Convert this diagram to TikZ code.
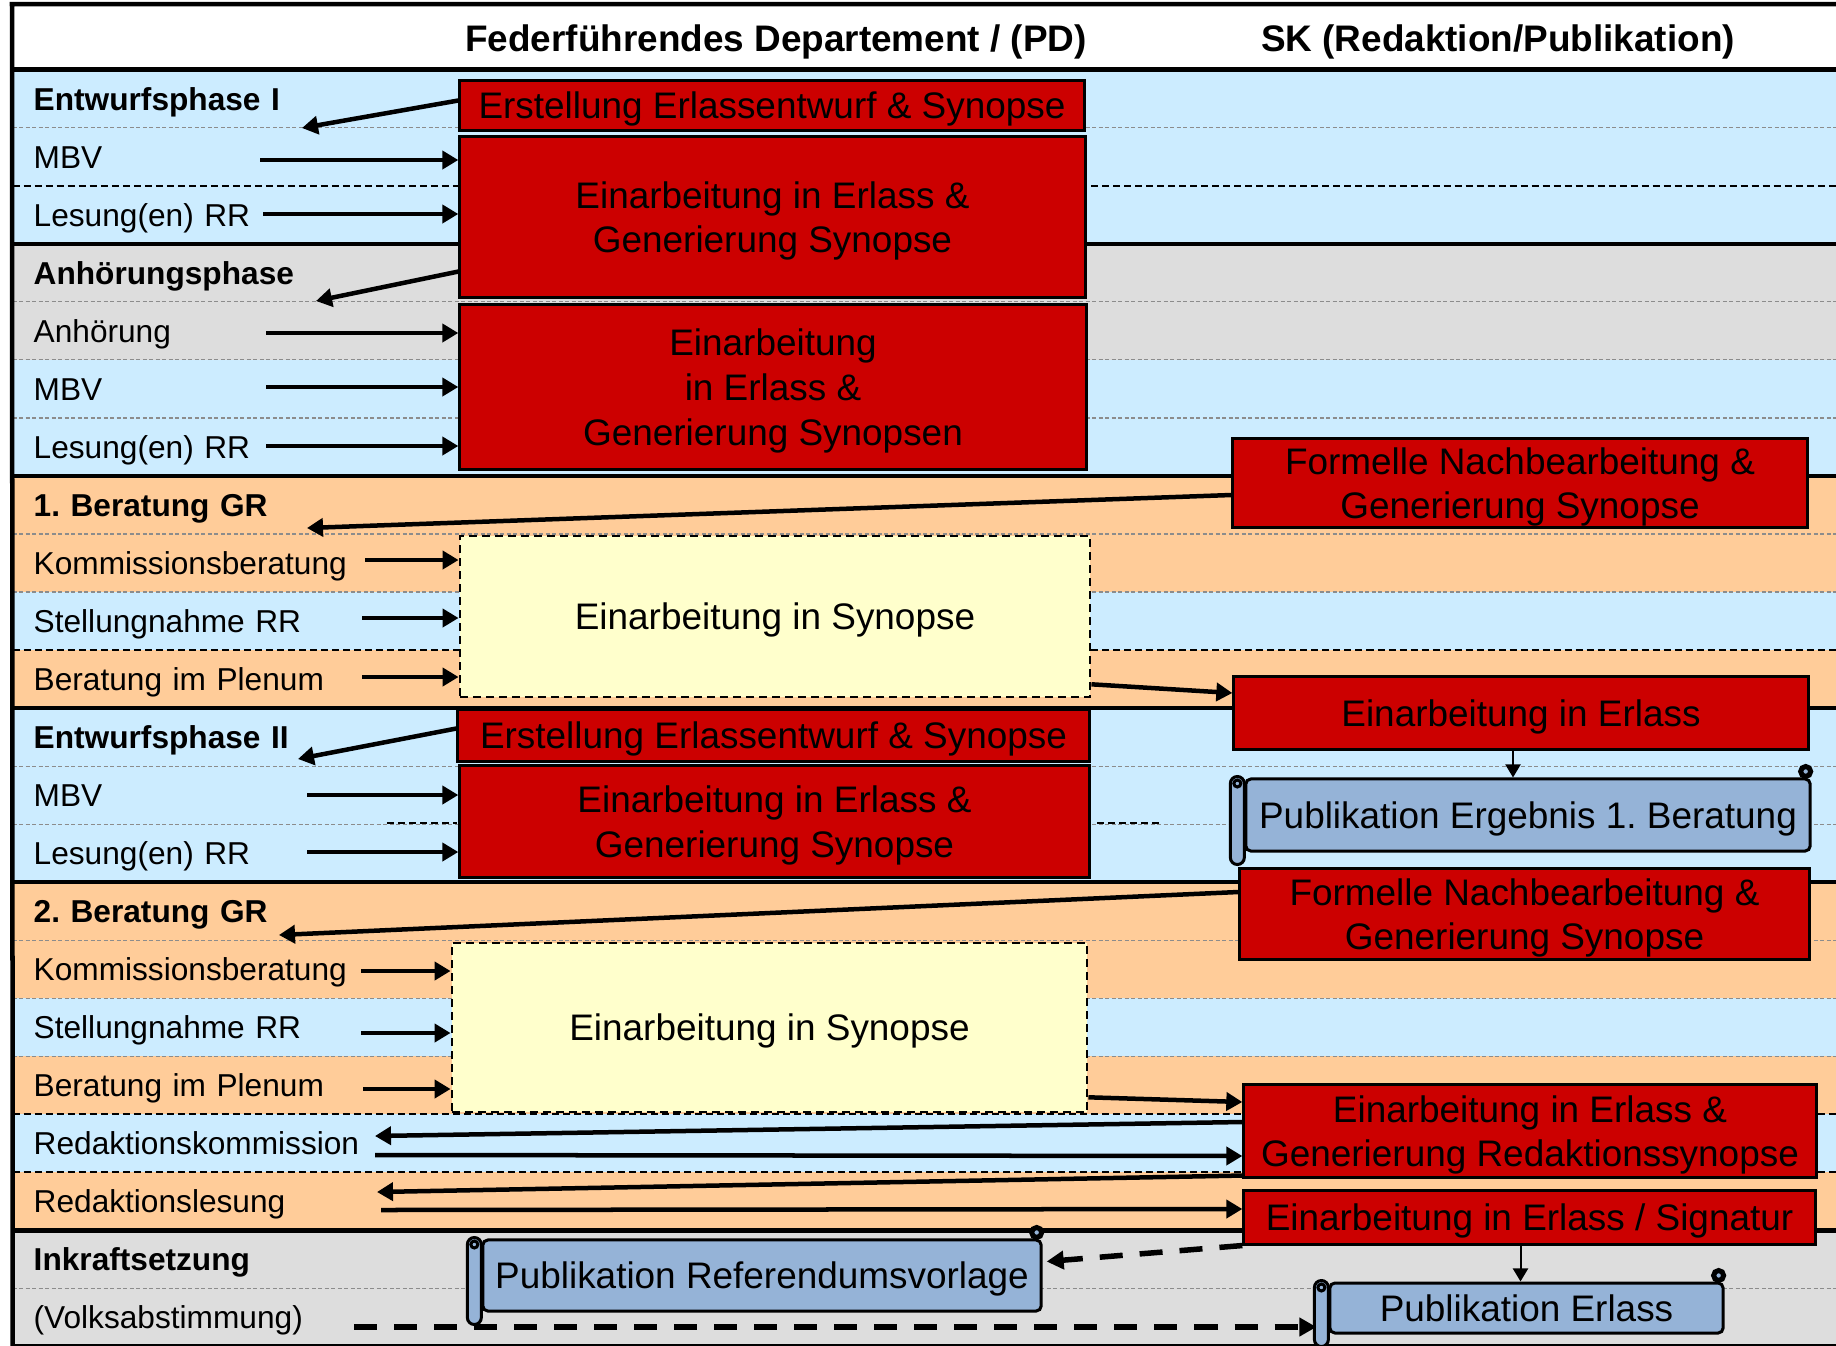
\documentclass[tikz,border=0pt]{standalone}
\usepackage{fontspec}
\setmainfont{Liberation Sans}
\usepackage{tikz}
\usetikzlibrary{matrix,calc,arrows.meta}
\frenchspacing

\definecolor{hgblau}{HTML}{CCECFF}
\definecolor{hggrau}{HTML}{DDDDDD}
\definecolor{hgorange}{HTML}{FFCC99}
\definecolor{rot}{HTML}{CC0000}
\definecolor{gelb}{HTML}{FFFFCC}
\definecolor{rollblau}{HTML}{95B3D7}

\newcommand\zeile{\fontsize{9}{11}\selectfont}
\newcommand\boxschrift{\fontsize{10.5}{12.7}\selectfont}
\newcommand\kopfschrift{\fontsize{10.5}{12.7}\selectfont\bfseries}

\newcommand\rolle[1]{%
	\draw[rolllinie, rounded corners=0.07cm] ($(#1.north west)+(-14,-1)$) rectangle ($(#1.south west)+(0,12)$);
	\draw[rolllinie] ($(#1.north west)+(-7,6)$) circle (0.035cm);
	\draw[rolllinie, line width=0.05cm] ($(#1.north east)+(-6,-6)$) circle (0.05cm);
}

\begin{document}
\begin{tikzpicture}[x=0.01cm, y=-0.01cm,
	pfeil/.style={line width=0.045cm, -{Triangle[length=0.16cm,width=0.18cm]}},
	duenn/.style={line width=0.02cm, -{Triangle[length=0.13cm,width=0.15cm]}},
	gestrichelt/.style={line width=0.055cm, dash pattern=on 0.23cm off 0.17cm, -{Triangle[length=0.17cm,width=0.18cm]}},
	rotbox/.style={draw, fill=rot, line width=0.03cm, inner sep=0pt, text depth=0pt, align=center, font=\boxschrift},
	gelbbox/.style={draw, fill=gelb, line width=0.025cm, dash pattern=on 0.08cm off 0.05cm, inner sep=0pt, text depth=0pt, align=center, font=\boxschrift},
	rollbox/.style={draw, fill=rollblau, line width=0.03cm, rounded corners=0.05cm, inner sep=0pt, text depth=0pt, align=center, font=\boxschrift},
	rolllinie/.style={draw, fill=rollblau, line width=0.03cm},
	punktlinie/.style={black!45, line width=0.012cm, dash pattern=on 0.04cm off 0.025cm},
	strichlinie/.style={line width=0.022cm, dash pattern=on 0.07cm off 0.04cm},
	dicklinie/.style={line width=0.045cm},
	kopf/.style={font=\kopfschrift, inner sep=0pt}]
	\useasboundingbox (0,0) rectangle (1836,1345);
	\matrix(m)[matrix of nodes, anchor=north west, inner sep=0pt, row sep=0pt, nodes={minimum height=0.58cm, text width=17.82cm, inner xsep=0.21cm, inner ysep=0pt, outer sep=0pt, text height=0.28cm, text depth=0.05cm, font=\zeile}] at (12,69) {
		|[fill=hgblau, font=\zeile\bfseries]| Entwurfsphase I \\
		|[fill=hgblau]| MBV \\
		|[fill=hgblau]| Lesung(en) RR \\
		|[fill=hggrau, font=\zeile\bfseries]| Anhörungsphase \\
		|[fill=hggrau]| Anhörung \\
		|[fill=hgblau]| MBV \\
		|[fill=hgblau]| Lesung(en) RR \\
		|[fill=hgorange, font=\zeile\bfseries]| 1. Beratung GR \\
		|[fill=hgorange]| Kommissionsberatung \\
		|[fill=hgblau]| Stellungnahme RR \\
		|[fill=hgorange]| Beratung im Plenum \\
		|[fill=hgblau, font=\zeile\bfseries]| Entwurfsphase II \\
		|[fill=hgblau]| MBV \\
		|[fill=hgblau]| Lesung(en) RR \\
		|[fill=hgorange, font=\zeile\bfseries]| 2. Beratung GR \\
		|[fill=hgorange]| Kommissionsberatung \\
		|[fill=hgblau]| Stellungnahme RR \\
		|[fill=hgorange]| Beratung im Plenum \\
		|[fill=hgblau]| Redaktionskommission \\
		|[fill=hgorange]| Redaktionslesung \\
		|[fill=hggrau, font=\zeile\bfseries]| Inkraftsetzung \\
		|[fill=hggrau]| (Volksabstimmung) \\
	};
	\foreach \i in {1,4,5,6,8,9,12,13,15,16,17,21}
		\draw[punktlinie] (m-\i-1.south west) -- (m-\i-1.south east);
	\foreach \i in {2,10,18,19}
		\draw[strichlinie] (m-\i-1.south west) -- (m-\i-1.south east);
	\foreach \i in {3,7,11,14,20}
		\draw[dicklinie] (m-\i-1.south west) -- (m-\i-1.south east);
	\draw[strichlinie] (387,823) -- (457,823);
	\draw[strichlinie] (1097,823) -- (1160,823);
	\draw[dicklinie] (m-1-1.north west) -- (m-1-1.north east);
	\draw[dicklinie] (1836,4) -- (12,4) -- (m-22-1.south west) -- (m-22-1.south east);

	\node[kopf, anchor=base] (kopf1) at (776,51) {Federführendes Departement / (PD)};
	\node[kopf, anchor=base] (kopf2) at (1498,51) {SK (Redaktion/Publikation)};

	\node[rotbox, minimum width=6.24cm, minimum height=0.49cm] (erst1) at (772,105.5) {Erstellung Erlassentwurf \& Synopse};
	\node[rotbox, minimum width=6.25cm, minimum height=1.6cm] (einarb1) at (772.5,217) {Einarbeitung in Erlass \&\\Generierung Synopse};
	\node[rotbox, minimum width=6.26cm, minimum height=1.64cm] (einarb2) at (773,387) {Einarbeitung\\in Erlass \&\\Generierung Synopsen};
	\node[rotbox, minimum width=5.74cm, minimum height=0.88cm] (formell1) at (1520,483) {Formelle Nachbearbeitung \&\\Generierung Synopse};
	\node[gelbbox, minimum width=6.3cm, minimum height=1.61cm] (syn1) at (775,616.5) {Einarbeitung in Synopse};
	\node[rotbox, minimum width=5.74cm, minimum height=0.72cm] (erlass1) at (1521,713) {Einarbeitung in Erlass};
	\node[rotbox, minimum width=6.31cm, minimum height=0.51cm] (erst2) at (773.5,735.5) {Erstellung Erlassentwurf \& Synopse};
	\node[rotbox, minimum width=6.29cm, minimum height=1.11cm] (einarb3) at (774.5,821.5) {Einarbeitung in Erlass \&\\Generierung Synopse};
	\node[rollbox, minimum width=5.64cm, minimum height=0.72cm] (publ1) at (1528,815) {Publikation Ergebnis 1. Beratung};
	\node[rotbox, minimum width=5.69cm, minimum height=0.9cm] (formell2) at (1524.5,914) {Formelle Nachbearbeitung \&\\Generierung Synopse};
	\node[gelbbox, minimum width=6.35cm, minimum height=1.69cm] (syn2) at (769.5,1027.5) {Einarbeitung in Synopse};
	\node[rotbox, minimum width=5.72cm, minimum height=0.92cm] (redsyn) at (1530,1131) {Einarbeitung in Erlass \&\\Generierung Redaktionssynopse};
	\node[rotbox, minimum width=5.71cm, minimum height=0.54cm] (signatur) at (1529.5,1217) {Einarbeitung in Erlass / Signatur};
	\node[rollbox, minimum width=5.58cm, minimum height=0.71cm] (refvorl) at (762,1275.5) {Publikation Referendumsvorlage};
	\node[rollbox, minimum width=3.93cm, minimum height=0.5cm] (publerl) at (1526.5,1308) {Publikation Erlass};
	\rolle{publ1}
	\rolle{refvorl}
	\rolle{publerl}

	\coordinate (zA) at (302,128);
	\coordinate (mbvA) at (260,160);
	\coordinate (lesA) at (263,214);
	\coordinate (zB) at (316,301);
	\coordinate (anh) at (266,333);
	\coordinate (mbvB) at (266,387);
	\coordinate (lesB) at (266,446);
	\coordinate (zC) at (307,528);
	\coordinate (komA) at (365,560);
	\coordinate (stellA) at (362,618);
	\coordinate (plenA) at (362,677);
	\coordinate (zD) at (298,759);
	\coordinate (mbvC) at (307,795);
	\coordinate (lesC) at (307,852);
	\coordinate (zE) at (279,935);
	\coordinate (komB) at (361,971);
	\coordinate (stellB) at (361,1033);
	\coordinate (plenB) at (363,1089);
	\coordinate (zF) at (375,1136);
	\coordinate (redk) at (375,1155);
	\coordinate (zG) at (377,1192);
	\coordinate (redl) at (381,1210);
	\coordinate (volk) at (354,1327);
	\coordinate (erlfuss) at ($(erlass1.south)+(-8,0)$);
	\coordinate (sigfuss) at ($(signatur.south)+(-9,0)$);

	\draw[pfeil] ($(erst1.west)+(0,-5)$) -- (zA);
	\draw[pfeil] (mbvA) -- (mbvA -| einarb1.west);
	\draw[pfeil] (lesA) -- (lesA -| einarb1.west);
	\draw[pfeil] ($(einarb1.south west)+(0,-27)$) -- (zB);
	\draw[pfeil] (anh) -- (anh -| einarb2.west);
	\draw[pfeil] (mbvB) -- (mbvB -| einarb2.west);
	\draw[pfeil] (lesB) -- (lesB -| einarb2.west);
	\draw[pfeil] ($(formell1.west)+(0,12)$) -- (zC);
	\draw[pfeil] (komA) -- (komA -| syn1.west);
	\draw[pfeil] (stellA) -- (stellA -| syn1.west);
	\draw[pfeil] (plenA) -- (plenA -| syn1.west);
	\draw[pfeil] ($(syn1.south east)+(0,-14)$) -- ($(erlass1.west)+(0,-20)$);
	\draw[pfeil] ($(erst2.west)+(0,-7)$) -- (zD);
	\draw[pfeil] (mbvC) -- (mbvC -| einarb3.west);
	\draw[pfeil] (lesC) -- (lesC -| einarb3.west);
	\draw[duenn] (erlfuss) -- (erlfuss |- publ1.north);
	\draw[pfeil] ($(formell2.west)+(0,-22)$) -- (zE);
	\draw[pfeil] (komB) -- (komB -| syn2.west);
	\draw[pfeil] (stellB) -- (stellB -| syn2.west);
	\draw[pfeil] (plenB) -- (plenB -| syn2.west);
	\draw[pfeil] ($(syn2.south east)+(0,-16)$) -- ($(redsyn.west)+(0,-29)$);
	\draw[pfeil] ($(redsyn.west)+(0,-9)$) -- (zF);
	\draw[pfeil] (redk) -- ($(redsyn.west)+(0,25)$);
	\draw[pfeil] ($(redsyn.south west)+(0,-3)$) -- (zG);
	\draw[pfeil] (redl) -- ($(signatur.west)+(0,-8)$);
	\draw[gestrichelt] (signatur.south west) -- ($(refvorl.east)+(4,-14)$);
	\draw[duenn] (sigfuss) -- (sigfuss |- publerl.north);
	\draw[gestrichelt] (volk) -- ($(volk -| publerl.west)+(-12,0)$);
\end{tikzpicture}
\end{document}
